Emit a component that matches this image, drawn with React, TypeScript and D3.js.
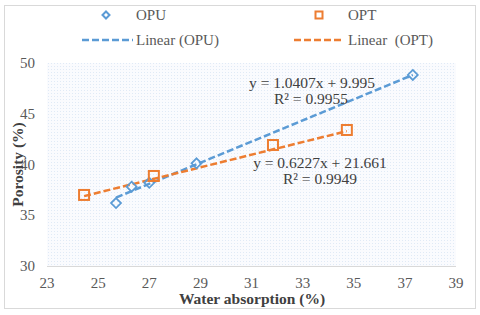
import React from "react";
import * as d3 from "d3";

const opuX = [25.7, 26.31, 27.0, 28.85, 37.31];
const opuY = [36.2, 37.81, 38.2, 40.12, 48.82];
const optX = [24.45, 27.18, 31.84, 34.73];
const optY = [37.0, 38.87, 41.92, 43.4];
const opuFit = { slope: 1.0407, intercept: 9.995 };
const optFit = { slope: 0.6227, intercept: 21.661 };
const xTicks = [23, 25, 27, 29, 31, 33, 35, 37, 39];
const yTicks = [30, 35, 40, 45, 50];
const opuEq = ["y = 1.0407x + 9.995", "R² = 0.9955"];
const optEq = ["y = 0.6227x + 21.661", "R² = 0.9949"];

const BLUE = "#5B9BD5";
const ORANGE = "#ED7D31";
const FONT = "'Liberation Serif', 'Times New Roman', serif";

export default function App() {
  const W = 480, H = 315;
  const L = 47, R = 456, T = 63, B = 266;
  const x = d3.scaleLinear().domain([23, 39]).range([L, R]);
  const y = d3.scaleLinear().domain([30, 50]).range([B, T]);

  const line = d3.line<[number, number]>().x(d => x(d[0])).y(d => y(d[1]));
  const fitLine = (xs: number[], f: { slope: number; intercept: number }) => {
    const a = d3.min(xs)!, b = d3.max(xs)!;
    return line([[a, f.slope * a + f.intercept], [b, f.slope * b + f.intercept]]) || "";
  };
  const diamond = (cx: number, cy: number, r: number) =>
    `M${cx},${cy - r}L${cx + r},${cy}L${cx},${cy + r}L${cx - r},${cy}Z`;

  return (
    <svg width={W} height={H} style={{ position: "absolute", left: 0, top: 0 }} fontFamily={FONT}>
      <defs>
        <pattern id="dots" width="3" height="3" patternUnits="userSpaceOnUse">
          <rect width="3" height="3" fill="#FAFBFE" />
          <rect x="0" y="0" width="1" height="1" fill="#E0EAF6" />
        </pattern>
      </defs>
      <rect x={0} y={0} width={W} height={H} fill="#fff" />
      <rect x={4.5} y={5.5} width={471} height={303} fill="#fff" stroke="#D9D9D9" strokeWidth={1} />
      <rect x={L} y={T} width={R - L} height={B - T} fill="url(#dots)" />
      <line x1={L} x2={R} y1={B + 0.5} y2={B + 0.5} stroke="#D9D9D9" strokeWidth={1} />

      {yTicks.map(t => (
        <text key={t} x={35} y={y(t) + 5} textAnchor="end" fontSize={15} fill="#595959">{t}</text>
      ))}
      {xTicks.map(t => (
        <text key={t} x={x(t)} y={288} textAnchor="middle" fontSize={15} fill="#595959">{t}</text>
      ))}
      <text x={(L + R) / 2 + 0.5} y={304} textAnchor="middle" fontSize={15.5} fontWeight="bold" fill="#404040">Water absorption (%)</text>
      <text transform={`translate(23,${(T + B) / 2}) rotate(-90)`} textAnchor="middle" fontSize={15.5} fontWeight="bold" fill="#404040">Porosity (%)</text>

      <path d={fitLine(opuX, opuFit)} stroke={BLUE} strokeWidth={2.5} strokeDasharray="7,3" fill="none" />
      <path d={fitLine(optX, optFit)} stroke={ORANGE} strokeWidth={2.5} strokeDasharray="7,3" fill="none" />

      {opuX.map((v, i) => (
        <path key={i} d={diamond(x(v), y(opuY[i]), 5)} fill="none" stroke={BLUE} strokeWidth={1.75} />
      ))}
      {optX.map((v, i) => (
        <rect key={i} x={x(v) - 5} y={y(optY[i]) - 5} width={10} height={10} fill="none" stroke={ORANGE} strokeWidth={2} />
      ))}

      <text x={312} y={88} textAnchor="middle" fontSize={15.5} fill="#404040">{opuEq[0]}</text>
      <text x={311} y={104} textAnchor="middle" fontSize={15.5} fill="#404040">{opuEq[1]}</text>
      <text x={320} y={168} textAnchor="middle" fontSize={15.5} fill="#404040">{optEq[0]}</text>
      <text x={320} y={184} textAnchor="middle" fontSize={15.5} fill="#404040">{optEq[1]}</text>

      <path d={diamond(106, 15, 3.5)} fill="none" stroke={BLUE} strokeWidth={2} />
      <text x={136} y={20} fontSize={15} fill="#595959">OPU</text>
      <rect x={315.5} y={11.5} width={7} height={7} fill="none" stroke={ORANGE} strokeWidth={2} />
      <text x={348} y={20} fontSize={15} fill="#595959">OPT</text>
      <line x1={82} x2={133} y1={40} y2={40} stroke={BLUE} strokeWidth={2.5} strokeDasharray="7,3" />
      <text x={136} y={45} fontSize={15} fill="#595959">Linear (OPU)</text>
      <line x1={294} x2={343} y1={40} y2={40} stroke={ORANGE} strokeWidth={2.5} strokeDasharray="7,3" />
      <text x={348} y={45} fontSize={15} fill="#595959" style={{ whiteSpace: "pre" }}>{"Linear  (OPT)"}</text>
    </svg>
  );
}
